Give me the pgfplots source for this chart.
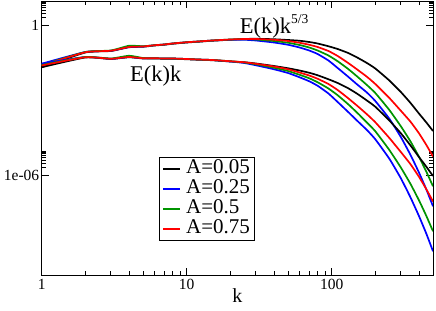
\documentclass[border=0pt]{standalone}
\usepackage{fontspec}
\setmainfont{Liberation Serif}
\usepackage{pgfplots}
\usepackage{pgfplotstable}
\pgfplotsset{compat=1.18}
\definecolor{xgreen}{rgb}{0,0.58,0}

% columns: k, log10(E k^{5/3}), log10(E k)
\pgfplotstableread{
k U Lo
1 -1.69 -1.69
2 -1.10 -1.30
3 -1.04 -1.36
4 -0.89 -1.29
5 -0.87 -1.34
6 -0.82 -1.34
7 -0.79 -1.35
8 -0.75 -1.35
10 -0.70 -1.37
12 -0.67 -1.39
15 -0.63 -1.41
20 -0.59 -1.46
25 -0.56 -1.49
30 -0.55 -1.54
40 -0.57 -1.64
50 -0.60 -1.73
60 -0.63 -1.82
70 -0.68 -1.91
80 -0.74 -2.01
95 -0.85 -2.17
110 -0.96 -2.32
130 -1.12 -2.53
150 -1.30 -2.75
175 -1.52 -3.02
200 -1.74 -3.27
250 -2.22 -3.82
300 -2.68 -4.33
350 -3.12 -4.82
400 -3.54 -5.28
450 -3.90 -5.67
500 -4.24 -6.04
}\blackdata

\pgfplotstableread{
k U Lo
1 -1.55 -1.55
2 -1.08 -1.28
3 -1.03 -1.35
4 -0.88 -1.28
5 -0.86 -1.33
6 -0.81 -1.33
7 -0.78 -1.34
8 -0.74 -1.34
10 -0.69 -1.36
12 -0.66 -1.38
15 -0.62 -1.40
20 -0.59 -1.46
25 -0.59 -1.52
30 -0.62 -1.61
40 -0.70 -1.77
50 -0.79 -1.92
60 -0.90 -2.09
70 -1.02 -2.25
80 -1.16 -2.43
95 -1.42 -2.74
110 -1.72 -3.08
130 -2.07 -3.48
150 -2.38 -3.83
175 -2.70 -4.20
200 -3.04 -4.57
250 -3.75 -5.35
300 -4.48 -6.13
350 -5.20 -6.90
400 -5.90 -7.64
450 -6.58 -8.35
500 -7.25 -9.05
}\bluedata

\pgfplotstableread{
k U Lo
1 -1.60 -1.60
2 -1.08 -1.28
3 -1.02 -1.34
4 -0.83 -1.23
5 -0.85 -1.32
6 -0.81 -1.33
7 -0.78 -1.34
8 -0.74 -1.34
10 -0.69 -1.36
12 -0.66 -1.38
15 -0.62 -1.40
20 -0.58 -1.45
25 -0.57 -1.50
30 -0.58 -1.57
40 -0.64 -1.71
50 -0.71 -1.84
60 -0.80 -1.99
70 -0.90 -2.13
80 -1.02 -2.29
95 -1.22 -2.54
110 -1.45 -2.81
130 -1.76 -3.17
150 -2.06 -3.51
175 -2.40 -3.90
200 -2.72 -4.25
250 -3.40 -5.00
300 -4.05 -5.70
350 -4.66 -6.36
400 -5.27 -7.01
450 -5.87 -7.64
500 -6.45 -8.25
}\greendata

\pgfplotstableread{
k U Lo
1 -1.62 -1.62
2 -1.09 -1.29
3 -1.03 -1.35
4 -0.88 -1.28
5 -0.86 -1.33
6 -0.81 -1.33
7 -0.78 -1.34
8 -0.74 -1.34
10 -0.69 -1.36
12 -0.66 -1.38
15 -0.62 -1.40
20 -0.58 -1.45
25 -0.56 -1.49
30 -0.56 -1.55
40 -0.59 -1.66
50 -0.64 -1.77
60 -0.71 -1.90
70 -0.79 -2.02
80 -0.88 -2.15
95 -1.04 -2.36
110 -1.24 -2.60
130 -1.52 -2.93
150 -1.78 -3.23
175 -2.07 -3.57
200 -2.36 -3.89
250 -2.92 -4.52
300 -3.43 -5.08
350 -3.87 -5.57
400 -4.33 -6.07
450 -4.80 -6.57
500 -5.26 -7.06
}\reddata

\begin{document}
\begin{tikzpicture}
\useasboundingbox (-41.7bp,-36bp) rectangle (394.3bp,275bp);
\begin{axis}[
  scale only axis,
  width=391.3bp, height=273.5bp,
  xmode=log, xmin=1, xmax=500,
  ymin=-10, ymax=0.94,
  xtick={1,10,100}, xticklabels={1,10,100},
  minor xtick={2,3,4,5,6,7,8,9,20,30,40,50,60,70,80,90,200,300,400},
  ytick={-6,0}, yticklabels={1e-06,1},
  minor ytick={0.30103,0.47712,0.60206,0.69897,0.77815,0.84510,0.90309,0.95424,
    -5.69897,-5.52288,-5.39794,-5.30103,-5.22185,-5.15490,-5.09691,-5.04576},
  tick align=inside, tick pos=both,
  major tick length=7bp, minor tick length=4bp,
  axis line style={line width=0.8bp},
  every tick/.style={black, line width=0.8bp},
  tick label style={font=\fontsize{15.5bp}{15.5bp}\selectfont},
  /pgf/number format/assume math mode=true,
  yticklabel style={xshift=1bp},
  xticklabel style={yshift=-0.5bp},
  xlabel={k},
  xlabel style={at={(axis description cs:0.5,0)}, anchor=base, yshift=-27bp,
    font=\fontsize{20bp}{20bp}\selectfont},
  clip=true,
  legend style={at={(rel axis cs:0.2998,0.4314)}, anchor=north west,
    draw=black, line width=0.8bp, fill=white,
    font=\fontsize{21bp}{21bp}\selectfont,
    inner xsep=3bp, inner ysep=1.5bp, row sep=0.3bp,
    nodes={inner sep=1bp, text height=14bp, text depth=3.7bp},
    /tikz/every odd column/.append style={column sep=4bp}},
  legend cell align=left,
  legend image code/.code={\draw[#1, sharp plot, line width=1.8bp] (0bp,0bp) -- (17bp,0bp);},
  every axis plot/.append style={line width=1.7bp, smooth, tension=0.3},
]
\addplot[black] table[x=k, y=U] {\blackdata};
\addlegendentry{A=0.05}
\addplot[blue] table[x=k, y=U] {\bluedata};
\addlegendentry{A=0.25}
\addplot[xgreen] table[x=k, y=U] {\greendata};
\addlegendentry{A=0.5}
\addplot[red] table[x=k, y=U] {\reddata};
\addlegendentry{A=0.75}
\addplot[black, forget plot] table[x=k, y=Lo] {\blackdata};
\addplot[blue, forget plot] table[x=k, y=Lo] {\bluedata};
\addplot[xgreen, forget plot] table[x=k, y=Lo] {\greendata};
\addplot[red, forget plot] table[x=k, y=Lo] {\reddata};
\node[anchor=base west, inner sep=0pt, font=\fontsize{22.5bp}{22.5bp}\selectfont]
  at (axis cs:4.06,-2.25) {E(k)k};
\node[anchor=base west, inner sep=0pt, font=\fontsize{22.5bp}{22.5bp}\selectfont]
  at (axis cs:23.2,-0.33) {E(k)k\raisebox{10bp}{\fontsize{13.5bp}{13.5bp}\selectfont 5/3}};
\end{axis}
\end{tikzpicture}
\end{document}
